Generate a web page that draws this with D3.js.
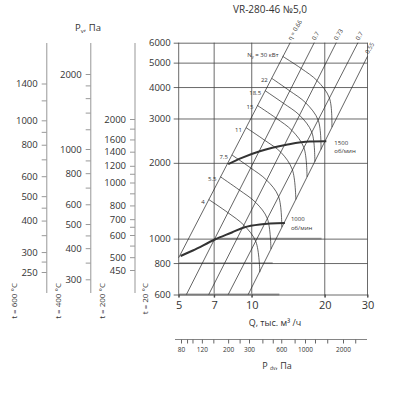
<!DOCTYPE html>
<html>
<head>
<meta charset="utf-8">
<script src="https://cdn.jsdelivr.net/npm/d3@7"></script>
<style>
  body { margin: 0; background: #fff; }
  text { font-family: 'Open Sans', sans-serif; fill: #333; }
</style>
</head>
<body>
<svg class="chart"></svg>
<script>
const size = {w: 397, h: 393};

// Q in thousand m3/h, P in Pa (t = 20 °C)
const qTicks = [5, 7, 10, 20, 30];
const pTicks = [600, 800, 1000, 2000, 3000, 4000, 5000, 6000];

// pressure scales for hot air
const tempLabels = ['t = 600 °C', 't = 400 °C', 't = 200 °C', 't = 20 °C'];
const t600Ticks = [1400, 1000, 800, 600, 500, 400, 300, 250];
const t600Minor = [1200, 900, 700, 450, 350, 275];
const t400Ticks = [2000, 1000, 800, 600, 500, 400, 300];
const t400Minor = [1800, 1600, 1400, 1200, 900, 700, 450, 350];
const t200Ticks = [2000, 1600, 1400, 1200, 1000, 800, 700, 600, 500, 450];
const t200Minor = [1800, 1100, 900, 650, 550];

// dynamic pressure scale
const pdvTicks = [80, 120, 200, 300, 600, 1000, 2000];
const pdvMinor = [90, 100, 150, 250, 400, 500, 800, 1200, 1500, 2500];

// efficiency lines (upper end, lower end)
const etaLabels = ['η = 0.66', '0.7', '0.73', '0.7', '0.55'];
const etaTopQ = [14.4, 18.1, 22.3, 27.4, 30];
const etaTopP = [6000, 6000, 6000, 6000, 5300];
const etaLowQ = [5, 5.38, 6.65, 8.0, 9.67];
const etaLowP = [840, 600, 600, 600, 600];

// power lines, kW (points where they cross the eta lines)
const powerLabels = ['30', '22', '18.5', '15', '11', '7.5', '5.5', '4'];
const powerQ = [
  [13.4, 16.0, 18.6, 20.9, 21.4],
  [12.1, 14.3, 16.7, 18.8, 19.3],
  [11.35, 13.5, 15.75, 17.7, 18.2],
  [10.55, 12.6, 14.65, 16.4, 16.9],
  [9.47, 11.3, 13.2, 14.7, 15.2],
  [8.28, 9.89, 11.5, 12.9, 13.3],
  [7.43, 8.89, 10.4, 11.6, 12.0],
  [6.65, 7.96, 9.29, 10.4, 10.8]
];
const powerP = [
  [5300, 4740, 4240, 3620, 2770],
  [4330, 3870, 3460, 2950, 2260],
  [3870, 3450, 3090, 2640, 2020],
  [3380, 3010, 2690, 2300, 1760],
  [2760, 2460, 2200, 1880, 1430],
  [2150, 1910, 1710, 1470, 1110],
  [1760, 1560, 1390, 1200, 908],
  [1430, 1270, 1130, 973, 736]
];

// fan curves
const rpmLabels = ['1500', '1000'];
const rpm1500Q = [8.0, 9.1, 10.8, 13.9, 17.3, 20.3];
const rpm1500P = [1977, 2093, 2222, 2358, 2430, 2434];
const rpm1000Q = [5.09, 5.72, 7.05, 8.28, 9.28, 10.8, 13.7];
const rpm1000P = [853, 897, 992, 1058, 1108, 1139, 1154];

// darker stretches on some grid lines
const bandP = [1000, 800, 600];
const bandQ0 = [7.05, 5, 5];
const bandQ1 = [19.4, 12.2, 13];

const svg = d3.select('svg.chart')
    .attr('width', size.w)
    .attr('height', size.h);

// scales of the main field
const x = d3.scaleLog().domain([5, 30]).range([178.7, 367.5]);
const y = d3.scaleLog().domain([600, 6000]).range([294.5, 42.7]);

// scales of the side axes
const t600 = d3.scaleLog().domain([250, 1400]).range([272, 83.5]);
const t400 = d3.scaleLog().domain([300, 2000]).range([279.3, 74]);
const t200 = d3.scaleLog().domain([2000, 1000, 600, 450]).range([119, 182.5, 235, 270]);
const pdv = d3.scaleLog().domain([80, 300, 1000, 2000]).range([181, 249, 305, 343]);

const fmt = d3.format('d');

// title
svg.append('text')
    .attr('x', 270).attr('y', 13)
    .attr('text-anchor', 'middle')
    .attr('font-size', 10)
    .text('VR-280-46 №5,0');

const pv = svg.append('text')
    .attr('x', 88).attr('y', 31)
    .attr('text-anchor', 'middle')
    .attr('font-size', 9.5);
pv.append('tspan').text('P');
pv.append('tspan').attr('font-size', 6).attr('dy', 2).text('v');
pv.append('tspan').attr('dy', -2).text(', Па');

// --------- SIDE AXES ----------
const sideAxes = [
  {scale: t600, major: t600Ticks, minor: t600Minor, at: 46.7, lab: 16.5},
  {scale: t400, major: t400Ticks, minor: t400Minor, at: 90.7, lab: 60.5},
  {scale: t200, major: t200Ticks, minor: t200Minor, at: 135, lab: 105}
];

sideAxes.forEach((a, i) => {
  const g = svg.append('g').attr('transform', `translate(${a.at},0)`);
  g.append('line')
      .attr('y1', 43).attr('y2', 293)
      .attr('stroke', '#b5b5b5').attr('stroke-width', 1.4);

  g.append('g')
      .call(d3.axisLeft(a.scale).tickValues(a.minor).tickSize(5).tickFormat(''))
      .call(s => s.select('.domain').remove());
  g.append('g')
      .call(d3.axisLeft(a.scale).tickValues(a.major).tickSize(5).tickPadding(4).tickFormat(fmt))
      .call(s => s.select('.domain').remove())
      .attr('font-family', null).attr('font-size', 9.5);

  g.selectAll('.tick line').attr('stroke', '#999');
  g.selectAll('.tick text').attr('fill', '#333');

  svg.append('text')
      .attr('transform', `translate(${a.lab},283) rotate(-90)`)
      .attr('text-anchor', 'end')
      .attr('font-size', 8)
      .text(tempLabels[i]);
});

svg.append('text')
    .attr('transform', 'translate(147.5,283) rotate(-90)')
    .attr('text-anchor', 'end')
    .attr('font-size', 8)
    .text(tempLabels[3]);

// --------- MAIN FIELD ----------
const grid = svg.append('g');

grid.selectAll('line.v')
  .data(qTicks)
  .join('line')
  .attr('x1', d => x(d)).attr('x2', d => x(d))
  .attr('y1', y(6000)).attr('y2', y(600) + 3)
  .attr('stroke', '#444').attr('stroke-width', 0.8);

grid.selectAll('rect.band')
  .data(bandP)
  .join('line')
  .attr('x1', (d, i) => x(bandQ0[i])).attr('x2', (d, i) => x(bandQ1[i]))
  .attr('y1', d => y(d)).attr('y2', d => y(d))
  .attr('stroke', '#a0a0a0').attr('stroke-width', 1.8);

const yAxis = svg.append('g')
    .attr('transform', `translate(${x(30)},0)`)
    .call(d3.axisLeft(y).tickValues(pTicks)
        .tickSize(x(30) - x(5) + 5).tickPadding(3).tickFormat(fmt))
    .call(s => s.select('.domain').remove())
    .attr('font-family', null).attr('font-size', 9.5);
yAxis.selectAll('.tick line').attr('stroke', '#444').attr('stroke-width', 0.8);

const xAxis = svg.append('g')
    .attr('transform', `translate(0,${y(600)})`)
    .call(d3.axisBottom(x).tickValues(qTicks).tickSize(3).tickPadding(4).tickFormat(fmt))
    .call(s => s.select('.domain').remove())
    .attr('font-family', null).attr('font-size', 11);
xAxis.selectAll('.tick line').attr('stroke', '#444');

svg.append('text')
    .attr('x', 275).attr('y', 326)
    .attr('text-anchor', 'middle')
    .attr('font-size', 9)
    .text('Q, тыс. м³ /ч');

// efficiency lines
const pq = d3.line().x(d => x(d[0])).y(d => y(d[1]));

const etaG = svg.append('g');
etaG.selectAll('path')
  .data(etaLabels)
  .join('path')
  .attr('d', (d, i) => pq([[etaTopQ[i], etaTopP[i]], [etaLowQ[i], etaLowP[i]]]))
  .attr('fill', 'none').attr('stroke', '#222').attr('stroke-width', 0.7);

etaG.selectAll('text')
  .data(etaLabels)
  .join('text')
  .attr('transform', (d, i) =>
      `translate(${x(etaTopQ[i]) + 1},${y(etaTopP[i]) - 2}) rotate(-60)`)
  .attr('font-size', 6)
  .text(d => d);

// power lines
const powerLine = d3.line().curve(d3.curveCatmullRom.alpha(0.5))
    .x(d => x(d[0])).y(d => y(d[1]));

const powG = svg.append('g');
powG.selectAll('path')
  .data(powerLabels)
  .join('path')
  .attr('d', (d, i) => powerLine(d3.zip(powerQ[i], powerP[i])))
  .attr('fill', 'none').attr('stroke', '#222').attr('stroke-width', 0.7);

powG.selectAll('text')
  .data(powerLabels)
  .join('text')
  .attr('x', (d, i) => x(powerQ[i][0]) - 4)
  .attr('y', (d, i) => y(powerP[i][0]) + (i === 0 ? 1 : 4))
  .attr('text-anchor', 'end')
  .attr('font-size', 6)
  .each(function (d, i) {
    const t = d3.select(this);
    if (i === 0) {
      t.append('tspan').text('N');
      t.append('tspan').attr('font-size', 4).attr('dy', 1).text('у');
      t.append('tspan').attr('dy', -1).text(' = ' + d + ' кВт');
    } else {
      t.text(d);
    }
  });

// fan curves at 1500 and 1000 rpm
const rpmQ = [rpm1500Q, rpm1000Q];
const rpmP = [rpm1500P, rpm1000P];
const fanLine = d3.line().curve(d3.curveMonotoneX)
    .x(d => x(d[0])).y(d => y(d[1]));

const rpmG = svg.append('g');
rpmG.selectAll('path')
  .data(rpmLabels)
  .join('path')
  .attr('d', (d, i) => fanLine(d3.zip(rpmQ[i], rpmP[i])))
  .attr('fill', 'none').attr('stroke', '#333').attr('stroke-width', 2);

rpmLabels.forEach((d, i) => {
  const ex = x(rpmQ[i][rpmQ[i].length - 1]) + (i === 0 ? 8 : 6);
  const ey = y(rpmP[i][rpmP[i].length - 1]) + (i === 0 ? 3.5 : -1.5);
  rpmG.append('text').attr('x', ex).attr('y', ey).attr('font-size', 6).text(d);
  rpmG.append('text').attr('x', ex).attr('y', ey + 8.5).attr('font-size', 6).text('об/мин');
});

// --------- DYNAMIC PRESSURE AXIS ----------
const pdvG = svg.append('g').attr('transform', 'translate(0,339.5)');
pdvG.append('line')
    .attr('x1', 175).attr('x2', 367)
    .attr('stroke', '#666').attr('stroke-width', 0.8);
pdvG.append('g')
    .call(d3.axisBottom(pdv).tickValues(pdvTicks.concat(pdvMinor)).tickSize(4).tickPadding(4)
        .tickFormat(d => pdvTicks.includes(d) ? d : ''))
    .call(s => s.select('.domain').remove())
    .attr('font-family', null).attr('font-size', 6.5);
pdvG.selectAll('.tick line').attr('stroke', '#666');

const pd = svg.append('text')
    .attr('x', 277).attr('y', 369)
    .attr('text-anchor', 'middle')
    .attr('font-size', 9);
pd.append('tspan').text('P ');
pd.append('tspan').attr('font-size', 5).attr('dy', 1).text('dv');
pd.append('tspan').attr('dy', -1).text(', Па');
</script>
</body>
</html>
